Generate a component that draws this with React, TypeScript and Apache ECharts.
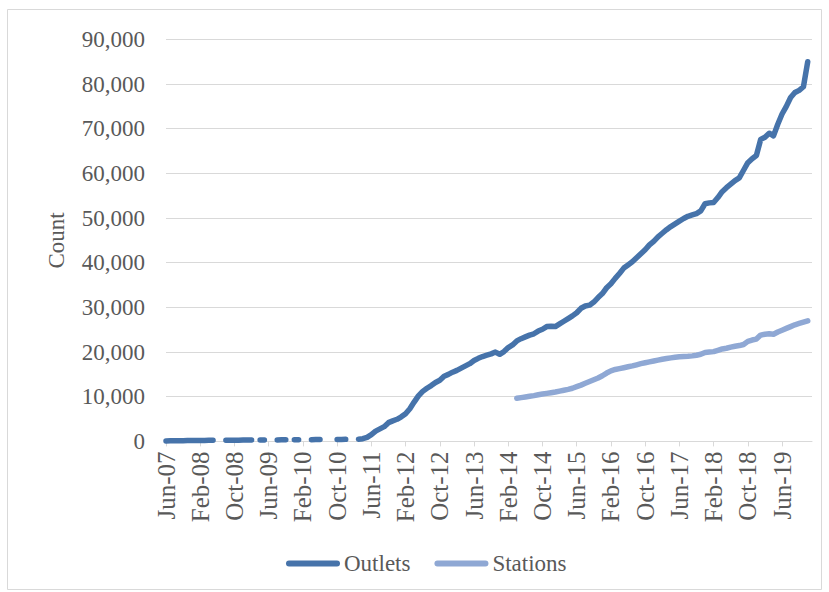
import React, { useEffect, useRef } from "react";
import * as echarts from "echarts";

// Monthly categories from Jun-07 through Jan-20
const MONTH_NAMES = ["Jan", "Feb", "Mar", "Apr", "May", "Jun", "Jul", "Aug", "Sep", "Oct", "Nov", "Dec"];
const START_YEAR = 2007;
const START_MONTH = 5; // Jun
const MONTH_COUNT = 152;

const categories: string[] = [];
for (let i = 0; i < MONTH_COUNT; i++) {
  const m = (START_MONTH + i) % 12;
  const y = START_YEAR + Math.floor((START_MONTH + i) / 12);
  categories.push(`${MONTH_NAMES[m]}-${String(y % 100).padStart(2, "0")}`);
}

const outlets: (number | null)[] = [
  100, 120, 140, 150, 160, 180, 190, 200, 210, 220, 230, 240,
  null, null,
  250, 260, 270, 280, 290, 300, 310,
  null,
  320, 330,
  null, null,
  340, 350, 360,
  null,
  370, 380,
  null, null,
  390, 400, 410,
  null, null, null,
  420, 440, 460,
  null, null,
  500, 600, 900, 1500, 2300, 2800, 3300, 4200, 4600, 4950,
  5500, 6200, 7300, 8800, 10200, 11200, 11900, 12500, 13200, 13700,
  14600, 15000, 15500, 15900, 16400, 16900, 17400, 18100, 18600, 19000,
  19300, 19600, 20000, 19500, 20100, 21000, 21600, 22500, 23000, 23400,
  23800, 24100, 24700, 25100, 25700, 25800, 25700, 26300, 26900, 27500,
  28100, 28800, 29800, 30300, 30500, 31200, 32200, 33100, 34400, 35300,
  36500, 37600, 38800, 39500, 40200, 41100, 42000, 42900, 44000, 44800,
  45800, 46600, 47400, 48100, 48700, 49300, 49900, 50400, 50700, 51000,
  51600, 53200, 53400, 53500, 54600, 55900, 56800, 57600, 58400, 59000,
  60700, 62400, 63300, 64000, 67600, 68100, 69000, 68400, 71000, 73300,
  75000, 77000, 78100, 78600, 79400, 85000,
];

const STATIONS_START_INDEX = 82; // Apr-14
const stations: number[] = [
  9650, 9800, 9950, 10100, 10250, 10450, 10600, 10750, 10900, 11050,
  11250, 11450, 11650, 11900, 12250, 12600, 13000, 13400, 13800, 14200,
  14700, 15300, 15800, 16100, 16300, 16500, 16700, 16900, 17150, 17400,
  17600, 17800, 18000, 18200, 18400, 18550, 18700, 18850, 18950, 19000,
  19050, 19150, 19300, 19500, 19900, 20000, 20100, 20400, 20700, 20850,
  21100, 21300, 21450, 21700, 22400, 22700, 22900, 23800, 24000, 24100,
  24000, 24500, 24900, 25300, 25700, 26100, 26400, 26700, 27000,
];

const Y_MIN = 0;
const Y_MAX = 90000;
const Y_STEP = 10000;

const SERIES_NAMES = ["Outlets", "Stations"];

export default function App() {
  const ref = useRef<HTMLDivElement>(null);

  useEffect(() => {
    if (!ref.current) return;
    const chart = echarts.init(ref.current, null, { renderer: "svg" });

    const stationsData: (number | null)[] = categories.map((_, i) =>
      i >= STATIONS_START_INDEX && i - STATIONS_START_INDEX < stations.length
        ? stations[i - STATIONS_START_INDEX]
        : null
    );

    const font = "Liberation Serif";
    const textColor = "#595959";
    const capsule = "path://M3,0 L51,0 A3,3 0 0 1 51,6 L3,6 A3,3 0 0 1 3,0 Z";

    chart.setOption({
      animation: false,
      backgroundColor: "#ffffff",
      textStyle: { fontFamily: font },
      graphic: [
        {
          type: "rect",
          shape: { x: 7.5, y: 9.5, width: 814, height: 580 },
          style: { fill: "none", stroke: "#d9d9d9", lineWidth: 1 },
          silent: true,
          z: -1,
        },
      ],
      grid: { left: 166, right: 17, top: 39.4, bottom: 150.6, containLabel: false },
      legend: {
        data: SERIES_NAMES,
        left: 281,
        top: 547,
        itemWidth: 54,
        itemHeight: 6,
        itemGap: 24,
        icon: capsule,
        textStyle: { fontFamily: font, fontSize: 23, color: textColor, padding: [0, 0, 0, -1] },
      },
      xAxis: {
        type: "category",
        data: categories,
        boundaryGap: false,
        axisLine: { show: true, lineStyle: { color: "#d9d9d9", width: 1 } },
        axisTick: { show: true, interval: 7, length: 5, lineStyle: { color: "#d9d9d9" } },
        axisLabel: {
          interval: 7,
          rotate: 90,
          margin: 10,
          fontFamily: font,
          fontSize: 25,
          color: textColor,
        },
        splitLine: { show: false },
      },
      yAxis: {
        type: "value",
        min: Y_MIN,
        max: Y_MAX,
        interval: Y_STEP,
        name: "Count",
        nameLocation: "middle",
        nameGap: 98,
        nameRotate: 90,
        nameTextStyle: { fontFamily: font, fontSize: 23, color: textColor },
        axisLine: { show: false },
        axisTick: { show: false },
        axisLabel: {
          margin: 21,
          fontFamily: font,
          fontSize: 23,
          color: textColor,
          formatter: (v: number) => v.toLocaleString("en-US"),
        },
        splitLine: { lineStyle: { color: "#d9d9d9", width: 1 } },
      },
      series: [
        {
          name: SERIES_NAMES[0],
          type: "line",
          data: outlets,
          symbol: "none",
          connectNulls: false,
          lineStyle: { color: "#4673aa", width: 5.5, cap: "round", join: "round" },
          itemStyle: { color: "#4673aa" },
          z: 3,
        },
        {
          name: SERIES_NAMES[1],
          type: "line",
          data: stationsData,
          symbol: "none",
          connectNulls: false,
          lineStyle: { color: "#8fa8d4", width: 5.5, cap: "round", join: "round" },
          itemStyle: { color: "#8fa8d4" },
          z: 2,
        },
      ],
    });

    return () => chart.dispose();
  }, []);

  return (
    <div
      ref={ref}
      style={{ position: "fixed", left: 0, top: 0, width: 829, height: 592 }}
    />
  );
}
